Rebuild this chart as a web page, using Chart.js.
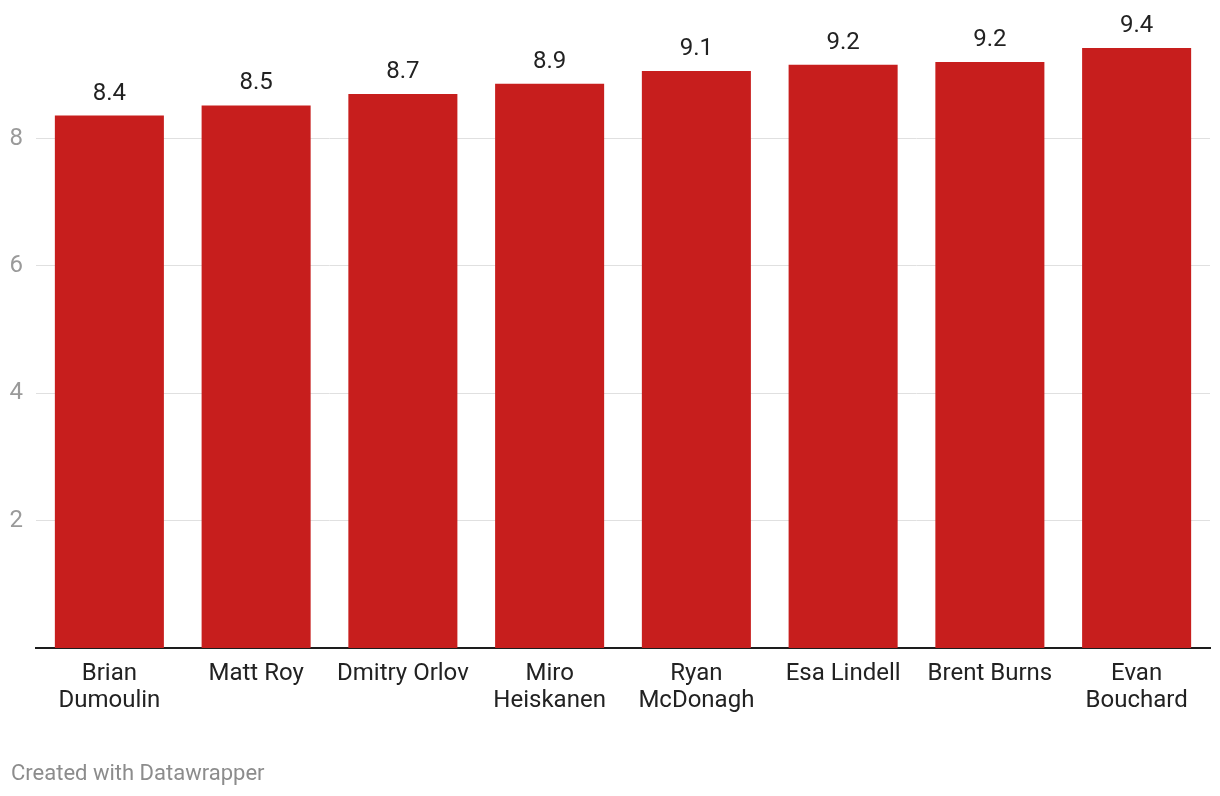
<!DOCTYPE html>
<html>
<head>
<meta charset="utf-8">
<script src="https://cdn.jsdelivr.net/npm/chart.js@4"></script>
<style>
  body { margin: 0; background: #fff; font-family: Roboto, sans-serif; }
  #wrap { position: relative; width: 1220px; height: 796px; }
  #footer { position: absolute; left: 11px; top: 760px; font-size: 22px; color: #8c8c8c; }
</style>
</head>
<body>
<div id="wrap">
  <canvas id="chart"></canvas>
  <div id="footer">Created with Datawrapper</div>
</div>
<script>
// players and their values (labels on top are rounded to 1 decimal)
var players = [['Brian', 'Dumoulin'], 'Matt Roy', 'Dmitry Orlov', ['Miro', 'Heiskanen'],
  ['Ryan', 'McDonagh'], 'Esa Lindell', 'Brent Burns', ['Evan', 'Bouchard']];
var values = [8.36, 8.52, 8.7, 8.86, 9.06, 9.16, 9.2, 9.42];
var yTicks = [2, 4, 6, 8];

// draw the value above each bar
var valueLabels = {
  id: 'valueLabels',
  afterDatasetsDraw: function(chart) {
    var ctx = chart.ctx;
    var meta = chart.getDatasetMeta(0);
    ctx.save();
    ctx.font = '24px Roboto';
    ctx.fillStyle = '#222';
    ctx.textAlign = 'center';
    ctx.textBaseline = 'alphabetic';
    meta.data.forEach(function(bar, i) {
      var txt = (Math.round(values[i] * 10) / 10).toFixed(1);
      ctx.fillText(txt, bar.x, bar.y - 16);
    });
    ctx.restore();
  }
};

new Chart(document.getElementById('chart'), {
  type: 'bar',
  data: {
    labels: players,
    datasets: [{
      data: values,
      backgroundColor: '#c71e1d',
      barPercentage: 0.743,
      categoryPercentage: 1
    }]
  },
  options: {
    responsive: true,
    maintainAspectRatio: false,
    animation: false,
    layout: { padding: { top: 43, left: 0, right: 10, bottom: 0 } },
    plugins: { legend: { display: false }, tooltip: { enabled: false } },
    scales: {
      x: {
        grid: { display: false, drawTicks: false },
        border: { color: '#1d1d1d', width: 2 },
        ticks: { color: '#222', font: { family: 'Roboto', size: 24, lineHeight: 1.125 }, padding: 12, maxRotation: 0, autoSkip: false },
        afterFit: function(scale) { scale.height = 148; }
      },
      y: {
        min: 0,
        max: 9.5,
        afterBuildTicks: function(scale) {
          scale.ticks = yTicks.map(function(v) { return { value: v }; });
        },
        grid: { color: '#e0e0e0', lineWidth: 1, drawTicks: false },
        border: { display: false },
        ticks: { color: '#9a9a9a', font: { family: 'Roboto', size: 24 }, padding: 13 },
        afterFit: function(scale) { scale.width = 36; }
      }
    }
  },
  plugins: [valueLabels]
});
</script>
</body>
</html>
